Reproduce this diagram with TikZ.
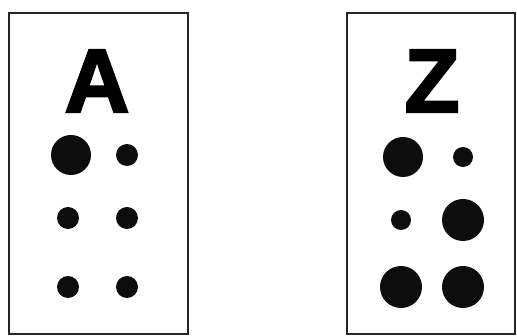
\documentclass[tikz,border=0pt]{standalone}
\usepackage{fontspec}
\setmainfont{Liberation Sans}
\newfontfamily\heavyfont[FakeBold=2.5]{Liberation Sans Bold}
\begin{document}
\begin{tikzpicture}[x=1pt,y=-1pt,
  card/.style={draw=black!85,line width=2.6pt},
  letter/.style={inner sep=0pt,anchor=base,font=\fontsize{90}{90}\selectfont\heavyfont},
  dot/.style={fill=black!95,draw=none}]
\useasboundingbox (0,0) rectangle (517,336);
\draw[card] (9,13) rectangle (188,334);
\draw[card] (347,13) rectangle (515,334);
\node[letter] (A) at (97,112) {A};
\node[letter] (Z) at (432,112) {Z};
% A dots
\fill[dot] (71,155) circle (20);
\fill[dot] (127,155) circle (11);
\fill[dot] (68,218) circle (11);
\fill[dot] (127,218) circle (11);
\fill[dot] (68,287) circle (11);
\fill[dot] (127,287) circle (11);
% Z dots
\fill[dot] (403,157) circle (20);
\fill[dot] (463,157) circle (10);
\fill[dot] (401,220) circle (10);
\fill[dot] (463,220) circle (21);
\fill[dot] (401,287) circle (21);
\fill[dot] (463,287) circle (21);
\end{tikzpicture}
\end{document}
